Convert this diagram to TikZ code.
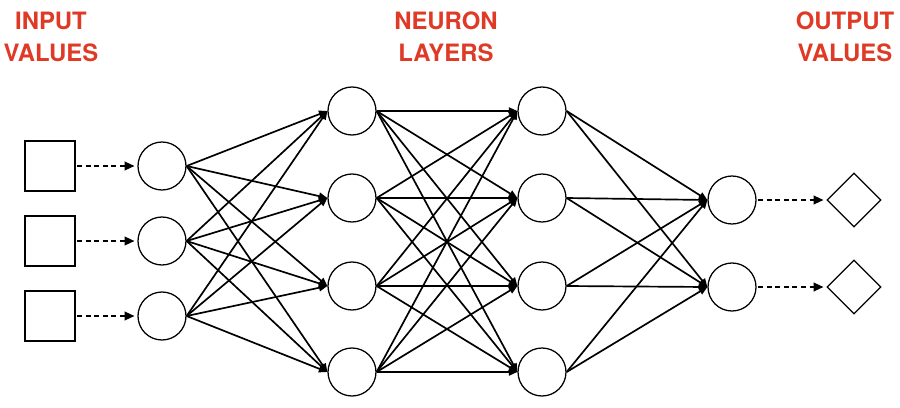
\documentclass[tikz,border=0pt]{standalone}
\usepackage{fontspec}
\setmainfont{TeX Gyre Heros}
\usepackage{xcolor}
\usepackage{tikz}
\usetikzlibrary{shapes.geometric, arrows.meta, positioning}

\definecolor{titlered}{RGB}{222,58,38}

\begin{document}
\begin{tikzpicture}[
    neuron/.style={circle, draw, line width=0.9pt, minimum size=1.2cm, inner sep=0pt},
    inbox/.style={rectangle, draw, line width=0.9pt, minimum size=1.25cm, inner sep=0pt},
    outbox/.style={diamond, draw, line width=0.9pt, minimum width=1.35cm, minimum height=1.35cm, inner sep=0pt},
    link/.style={line width=1.2pt, -{Triangle[length=6pt, width=5pt]}},
    feed/.style={line width=1.5pt, dash pattern=on 3.5pt off 2.6pt, -{Triangle[length=7pt, width=6pt]}, shorten >=2pt, shorten <=1pt},
    heading/.style={text=titlered, font=\fontsize{17}{22.8}\selectfont\bfseries, align=center}
]
    \useasboundingbox (0,0) rectangle (22.5,10.175);

    % Input values and first layer
    \foreach \i/\y in {1/6.025, 2/4.15, 3/2.275} {
        \node[inbox] (in\i) at (1.25,\y) {};
        \node[neuron] (a\i) at (4.05,\y) {};
        \draw[feed] (in\i) -- (a\i);
    }

    % Hidden layers
    \foreach \i/\y in {1/7.4, 2/5.225, 3/3.025, 4/0.875} {
        \node[neuron] (b\i) at (8.8,\y) {};
        \node[neuron] (c\i) at (13.55,\y) {};
    }

    % Output neurons and values
    \foreach \i/\y in {1/5.175, 2/3.0} {
        \node[neuron] (d\i) at (18.3,\y) {};
        \node[outbox] (out\i) at (21.35,\y) {};
        \draw[feed] (d\i) -- (out\i);
    }

    % Connections
    \foreach \i in {1,2,3}
        \foreach \j in {1,2,3,4}
            \draw[link] (a\i.east) -- (b\j.west);
    \foreach \i in {1,2,3,4}
        \foreach \j in {1,2,3,4}
            \draw[link] (b\i.east) -- (c\j.west);
    \foreach \i in {1,2,3,4}
        \foreach \j in {1,2}
            \draw[link] (c\i.east) -- (d\j.west);

    % Labels
    \node[heading] (inlabel) at (1.275,9.25) {INPUT\\VALUES};
    \node[heading] (hidlabel) at (11.15,9.25) {NEURON\\LAYERS};
    \node[heading] (outlabel) at (21.125,9.25) {OUTPUT\\VALUES};
\end{tikzpicture}
\end{document}
